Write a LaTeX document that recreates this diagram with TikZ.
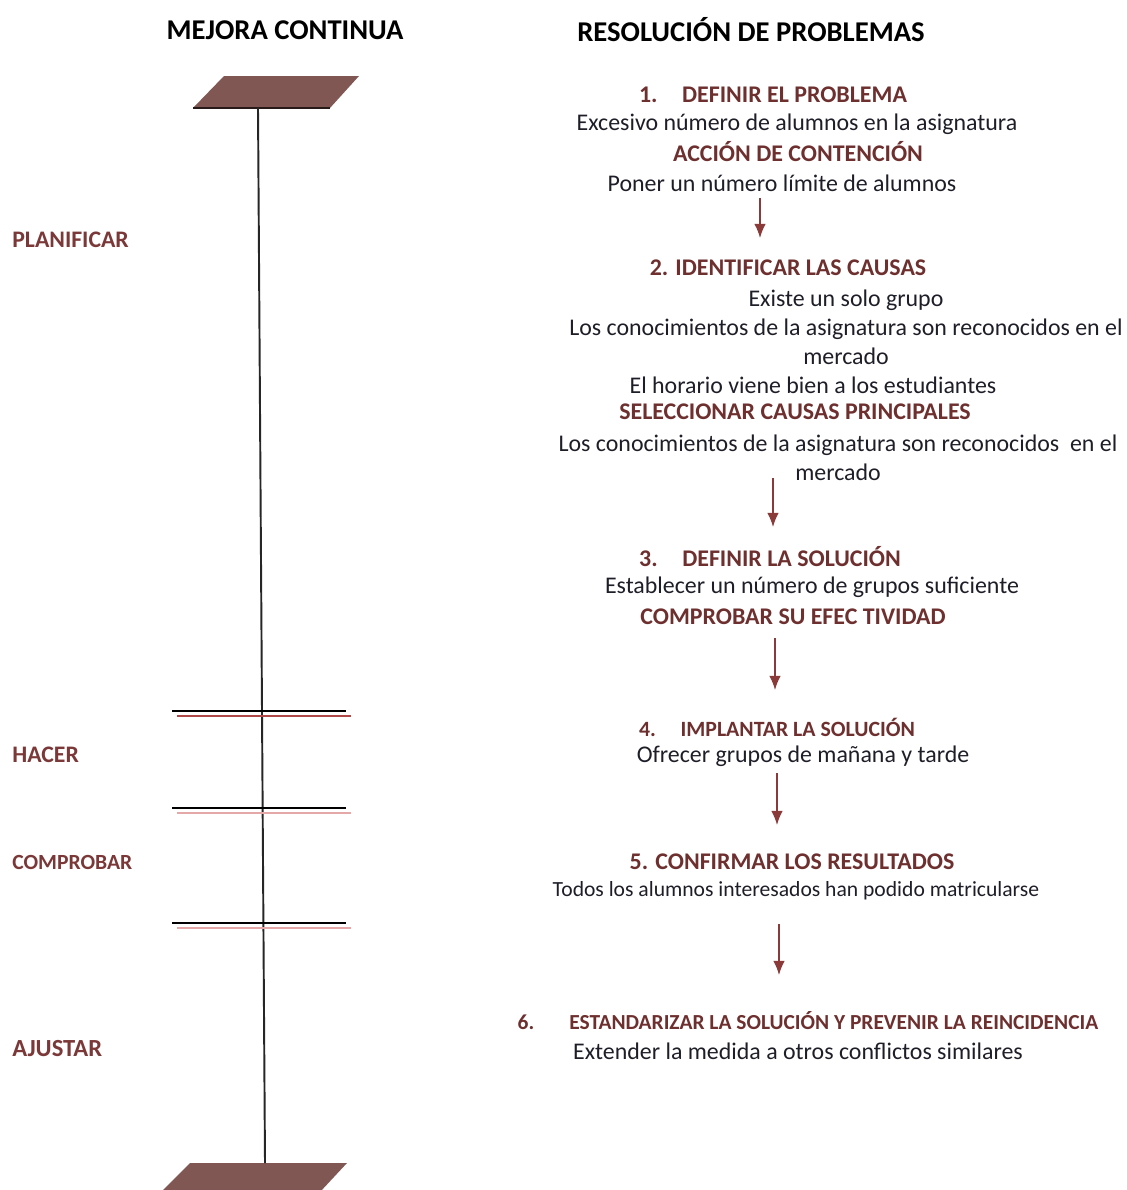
\documentclass[tikz,border=0pt]{standalone}
\usepackage{fontspec}
\setmainfont{Carlito}
\usepackage{xcolor}
\usepackage{tikz}
\usetikzlibrary{arrows.meta}

\definecolor{vino}{HTML}{6E2F2F}
\definecolor{etiqueta}{HTML}{7B3838}
\definecolor{tinta}{HTML}{1E1E28}
\definecolor{losa}{HTML}{805753}
\definecolor{flecharoja}{HTML}{8B3A3A}
\definecolor{rojofuerte}{HTML}{B04848}
\definecolor{rojosuave}{HTML}{E4A8A8}

\begin{document}
\begin{tikzpicture}[x=0.02cm,y=-0.02cm]
    \tikzstyle{every node}=[inner sep=0pt]
    \tikzstyle{titulo}=[text=black,font=\fontsize{16.3}{19}\selectfont\bfseries]
    \tikzstyle{etapa}=[text=etiqueta,anchor=west,font=\fontsize{13.5}{16}\selectfont\bfseries]
    \tikzstyle{paso}=[text=vino,font=\fontsize{13.6}{16}\selectfont\bfseries]
    \tikzstyle{texto}=[text=tinta,align=center,font=\fontsize{13.6}{16.6}\selectfont]
    \tikzstyle{flecha}=[draw=flecharoja,line width=0.8pt,-{Latex[length=8pt,width=6.5pt]}]
    \tikzstyle{barra}=[draw=black,line width=1.1pt]

    \useasboundingbox (0,0) rectangle (1126,1190);

    % columna izquierda
    \node[titulo] (mejora) at (285,30) {MEJORA CONTINUA} ;
    \fill[losa] (224,76) -- (359,76) -- (330,108) -- (193,108) -- cycle ;
    \draw[black!70!losa,line width=1pt] (193,108) -- (330,108) ;
    \fill[losa] (190,1163) -- (347,1163) -- (320,1192) -- (161,1192) -- cycle ;
    \coordinate (arriba) at (258,108) ;
    \coordinate (abajo) at (265,1163) ;
    \draw[black!85,line width=1.1pt] (arriba) -- (abajo) ;

    \foreach \y/\c in {711/rojofuerte,808/rojosuave,923/rojosuave}{%
      \draw[barra] (172,\y) -- (346,\y) ;
      \draw[\c,line width=1pt] (177,\y+5) -- (351,\y+5) ;}

    \node[etapa] (planificar) at (12,240)  {PLANIFICAR} ;
    \node[etapa] (hacer)      at (12,755)  {HACER} ;
    \node[etapa,font=\fontsize{12.3}{15}\selectfont\bfseries] (comprobar) at (12,862) {COMPROBAR} ;
    \node[etapa,font=\fontsize{14}{16}\selectfont\bfseries]   (ajustar)   at (12,1049) {AJUSTAR} ;

    % columna derecha
    \node[titulo] (resolucion) at (751,30) {RESOLUCIÓN DE PROBLEMAS} ;

    \node[paso]  (p1)  at (773,95)  {1.\hspace{14pt}DEFINIR EL PROBLEMA} ;
    \node[texto] (p1a) at (797,124) {Excesivo número de alumnos en la asignatura} ;
    \node[paso]  (p1b) at (798,152) {ACCIÓN DE CONTENCIÓN} ;
    \node[texto] (p1c) at (782,183) {Poner un número límite de alumnos} ;

    \node[paso]  (p2)  at (788,268) {2. IDENTIFICAR LAS CAUSAS} ;
    \node[texto] (p2a) at (846,327) {Existe un solo grupo\\Los conocimientos de la asignatura son reconocidos en el\\mercado} ;
    \node[texto] (p2b) at (813,385) {El horario viene bien a los estudiantes} ;
    \node[paso]  (p2c) at (795,412) {SELECCIONAR CAUSAS PRINCIPALES} ;
    \node[texto] (p2d) at (838,458) {Los conocimientos de la asignatura son reconocidos\ \ en el\\mercado} ;

    \node[paso]  (p3)  at (770,557) {3.\hspace{14pt}DEFINIR LA SOLUCIÓN} ;
    \node[texto] (p3a) at (812,587) {Establecer un número de grupos suficiente} ;
    \node[paso]  (p3b) at (793,617) {COMPROBAR SU EFEC TIVIDAD} ;

    \node[paso,font=\fontsize{12.4}{15}\selectfont\bfseries] (p4) at (777,727) {4.\hspace{14pt}IMPLANTAR LA SOLUCIÓN} ;
    \node[texto] (p4a) at (803,756) {Ofrecer grupos de mañana y tarde} ;

    \node[paso]  (p5)  at (792,862) {5. CONFIRMAR LOS RESULTADOS} ;
    \node[texto,font=\fontsize{12.3}{14}\selectfont] (p5a) at (796,891) {Todos los alumnos interesados han podido matricularse} ;

    \node[paso,font=\fontsize{12.2}{14}\selectfont\bfseries] (p6) at (808,1021) {6.\hspace{20pt}ESTANDARIZAR LA SOLUCIÓN Y PREVENIR LA REINCIDENCIA} ;
    \node[texto] (p6a) at (798,1051) {Extender la medida a otros conflictos similares} ;

    \foreach \n/\x/\ya/\yb in {1/760/198/238,2/773/478/527,3/775/638/690,4/777/773/825,5/779/924/975}{%
      \coordinate (f\n a) at (\x,\ya) ;
      \coordinate (f\n b) at (\x,\yb) ;
      \draw[flecha] (f\n a) -- (f\n b) ;}

\end{tikzpicture}
\end{document}
